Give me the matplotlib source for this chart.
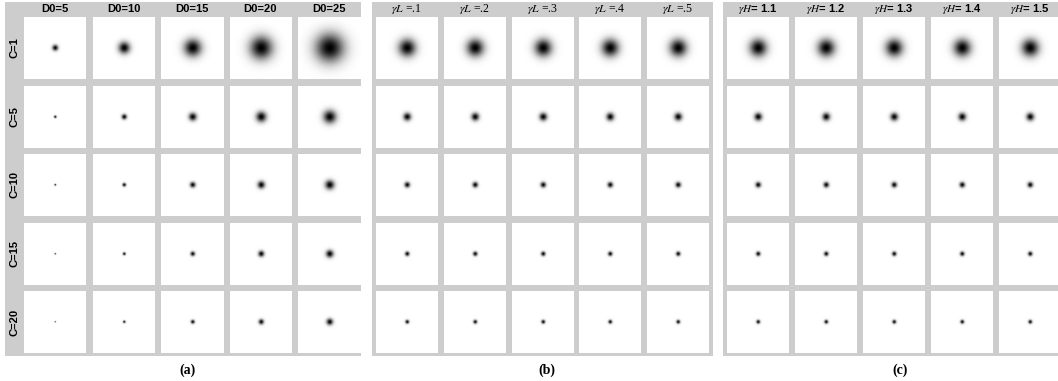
import numpy as np
import matplotlib
matplotlib.use("Agg")
import matplotlib.pyplot as plt
from matplotlib.patches import Rectangle

# Filter parameters shown in the three grids
d0_values = [5, 10, 15, 20, 25]
c_values = [1, 5, 10, 15, 20]
gamma_l_values = [".1", ".2", ".3", ".4", ".5"]
gamma_h_values = ["1.1", "1.2", "1.3", "1.4", "1.5"]
d0_fixed = 15          # cut-off used for the gamma sweeps
gamma_h_fixed = 1.5    # gamma_H used for the gamma_L sweep
gamma_l_fixed = 0.5    # gamma_L used for the gamma_H sweep

N = 112                # filter size in frequency samples

W, H = 1058, 381
GRAY = "#cdcdcd"

plt.rcParams["mathtext.fontset"] = "stix"

fig = plt.figure(figsize=(W / 100, H / 100), dpi=100)
fig.patch.set_facecolor("white")


def rect(x, y, w, h):
    return [x / W, 1 - (y + h) / H, w / W, h / H]


def homomorphic(d0, c, gl, gh):
    u = np.arange(N) - N / 2
    uu, vv = np.meshgrid(u, u)
    d2 = uu ** 2 + vv ** 2
    return (gh - gl) * (1 - np.exp(-c * d2 / d0 ** 2)) + gl


def show(x, y, img):
    ax = fig.add_axes(rect(x, y, 62, 62.5), zorder=5)
    img = (img - img.min()) / (img.max() - img.min())
    ax.imshow(img, cmap="gray", vmin=0, vmax=1, interpolation="antialiased",
              aspect="auto")
    ax.set_axis_off()


row_y = [17 + 68.5 * j for j in range(5)]

panels = [
    dict(box=(5, 2, 356, 354), x0=24, pitch=68.5, label="(a)", lx=188),
    dict(box=(372, 2, 341, 354), x0=376, pitch=67.75, label="(b)", lx=547),
    dict(box=(723, 2, 340, 354), x0=727, pitch=68.0, label="(c)", lx=900),
]

for k, p in enumerate(panels):
    bx, by, bw, bh = p["box"]
    fig.patches.append(Rectangle((bx / W, 1 - (by + bh) / H), bw / W, bh / H,
                                 transform=fig.transFigure, facecolor=GRAY,
                                 edgecolor="none", zorder=-10))
    for i in range(5):
        cx = p["x0"] + p["pitch"] * i
        for j, c in enumerate(c_values):
            if k == 0:
                img = homomorphic(d0_values[i], c, 0.5, 1.5)
            elif k == 1:
                img = homomorphic(d0_fixed, c, float(gamma_l_values[i]), gamma_h_fixed)
            else:
                img = homomorphic(d0_fixed, c, gamma_l_fixed, float(gamma_h_values[i]))
            show(cx, row_y[j], img)
        tx = (cx + 31) / W
        ty = 1 - 9.5 / H
        if k == 0:
            fig.text(tx, ty, f"D0={d0_values[i]}", ha="center", va="center",
                     family="Liberation Sans", weight="bold", fontsize=8)
        elif k == 1:
            fig.text(tx, ty, r"$\gamma L$ =" + gamma_l_values[i], ha="center",
                     va="center", family="Liberation Serif", fontsize=8.5)
        else:
            fig.text(tx, ty, r"$\gamma H$= " + gamma_h_values[i], ha="center",
                     va="center", family="Liberation Sans", weight="bold",
                     fontsize=8)
    fig.text(p["lx"] / W, 1 - 370 / H, p["label"], ha="center", va="center",
             family="Liberation Serif", weight="bold", fontsize=10)

for j, c in enumerate(c_values):
    fig.text(14 / W, 1 - (row_y[j] + 31) / H, f"C={c}", rotation=90,
             ha="center", va="center", family="Liberation Sans",
             weight="bold", fontsize=8)

fig.savefig("out.png", dpi=100, facecolor="white")
